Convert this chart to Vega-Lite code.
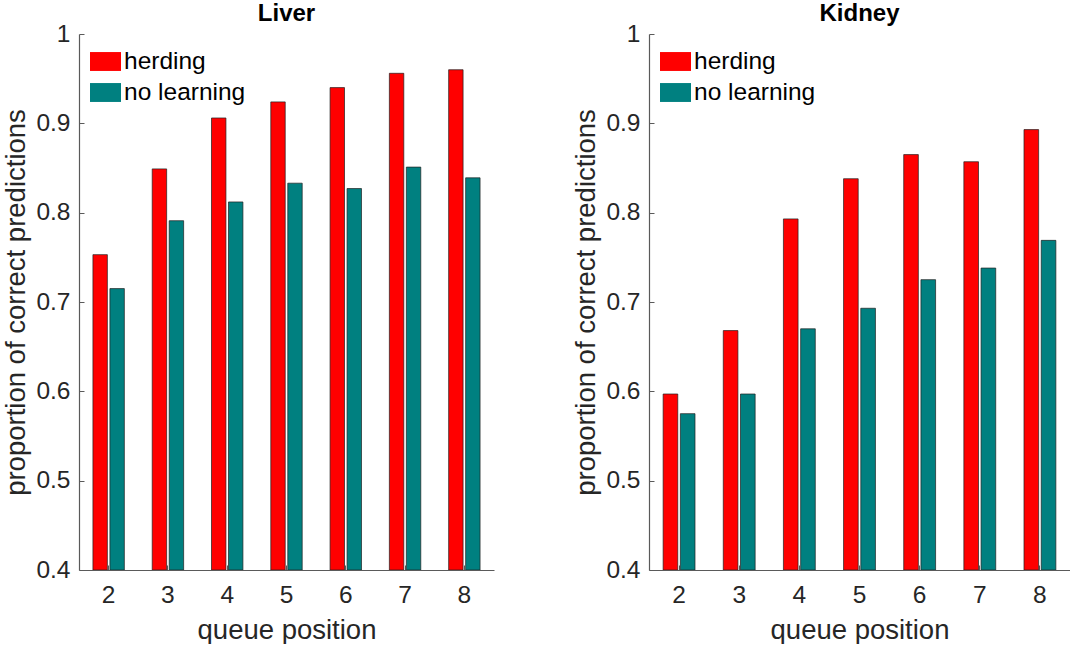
{
  "$schema": "https://vega.github.io/schema/vega-lite/v6.json",
  "background": "white",
  "padding": {"left": 2, "top": 2, "right": 0, "bottom": 0},
  "config": {
    "font": "Liberation Sans",
    "view": {"stroke": null},
    "axis": {
      "labelFont": "Liberation Sans",
      "labelFontSize": 24.5,
      "labelColor": "#262626",
      "titleFont": "Liberation Sans",
      "titleFontSize": 27.5,
      "titleFontWeight": "normal",
      "titleColor": "#262626",
      "domainColor": "#5a5a5a",
      "domainWidth": 1.2,
      "tickColor": "#5a5a5a",
      "grid": false
    },
    "title": {"font": "Liberation Sans", "fontSize": 24, "fontWeight": "bold", "color": "#000000", "offset": -5},
    "concat": {"spacing": 78}
  },
  "data": {
    "values": [
      {"organ": "Liver", "pos": 2, "method": "herding", "value": 0.753},
      {"organ": "Liver", "pos": 3, "method": "herding", "value": 0.849},
      {"organ": "Liver", "pos": 4, "method": "herding", "value": 0.906},
      {"organ": "Liver", "pos": 5, "method": "herding", "value": 0.924},
      {"organ": "Liver", "pos": 6, "method": "herding", "value": 0.940},
      {"organ": "Liver", "pos": 7, "method": "herding", "value": 0.956},
      {"organ": "Liver", "pos": 8, "method": "herding", "value": 0.960},
      {"organ": "Liver", "pos": 2, "method": "no learning", "value": 0.715},
      {"organ": "Liver", "pos": 3, "method": "no learning", "value": 0.791},
      {"organ": "Liver", "pos": 4, "method": "no learning", "value": 0.812},
      {"organ": "Liver", "pos": 5, "method": "no learning", "value": 0.833},
      {"organ": "Liver", "pos": 6, "method": "no learning", "value": 0.827},
      {"organ": "Liver", "pos": 7, "method": "no learning", "value": 0.851},
      {"organ": "Liver", "pos": 8, "method": "no learning", "value": 0.839},
      {"organ": "Kidney", "pos": 2, "method": "herding", "value": 0.597},
      {"organ": "Kidney", "pos": 3, "method": "herding", "value": 0.668},
      {"organ": "Kidney", "pos": 4, "method": "herding", "value": 0.793},
      {"organ": "Kidney", "pos": 5, "method": "herding", "value": 0.838},
      {"organ": "Kidney", "pos": 6, "method": "herding", "value": 0.865},
      {"organ": "Kidney", "pos": 7, "method": "herding", "value": 0.857},
      {"organ": "Kidney", "pos": 8, "method": "herding", "value": 0.893},
      {"organ": "Kidney", "pos": 2, "method": "no learning", "value": 0.575},
      {"organ": "Kidney", "pos": 3, "method": "no learning", "value": 0.597},
      {"organ": "Kidney", "pos": 4, "method": "no learning", "value": 0.670},
      {"organ": "Kidney", "pos": 5, "method": "no learning", "value": 0.693},
      {"organ": "Kidney", "pos": 6, "method": "no learning", "value": 0.725},
      {"organ": "Kidney", "pos": 7, "method": "no learning", "value": 0.738},
      {"organ": "Kidney", "pos": 8, "method": "no learning", "value": 0.769}
    ]
  },
  "hconcat": [
    {
      "title": "Liver",
      "width": 415,
      "height": 536,
      "transform": [{"filter": "datum.organ === 'Liver'"}],
      "mark": {"type": "bar", "clip": true, "stroke": "#1f1f1f", "strokeWidth": 0.7},
      "encoding": {
        "x": {"field": "pos", "type": "ordinal", "scale": {"paddingInner": 0.47, "paddingOuter": 0.235},
              "axis": {"title": "queue position", "labelAngle": 0, "tickSize": -5, "labelPadding": 18, "titlePadding": 10}},
        "xOffset": {"field": "method", "type": "nominal", "scale": {"domain": ["herding", "no learning"], "paddingInner": 0.15}},
        "y": {"field": "value", "type": "quantitative", "scale": {"domain": [0.4, 1]},
              "axis": {"title": "proportion of correct predictions", "values": [0.4, 0.5, 0.6, 0.7, 0.8, 0.9, 1], "format": ".1~f", "tickSize": -5, "labelPadding": 14, "titlePadding": 5}},
        "y2": {"datum": 0.4},
        "color": {"field": "method", "type": "nominal",
                  "scale": {"domain": ["herding", "no learning"], "range": ["#ff0000", "#008080"]},
                  "legend": {"title": null, "orient": "none", "legendX": 11, "legendY": 12, "symbolType": "M-1,-0.61H1V0.61H-1Z", "symbolSize": 961, "symbolStrokeWidth": 0, "symbolOpacity": 1, "labelFontSize": 24.5, "labelColor": "#000000", "labelOffset": 3, "rowPadding": 4, "labelFont": "Liberation Sans"}}
      }
    },
    {
      "title": "Kidney",
      "width": 421,
      "height": 536,
      "transform": [{"filter": "datum.organ === 'Kidney'"}],
      "mark": {"type": "bar", "clip": true, "stroke": "#1f1f1f", "strokeWidth": 0.7},
      "encoding": {
        "x": {"field": "pos", "type": "ordinal", "scale": {"paddingInner": 0.47, "paddingOuter": 0.235},
              "axis": {"title": "queue position", "labelAngle": 0, "tickSize": -5, "labelPadding": 18, "titlePadding": 10}},
        "xOffset": {"field": "method", "type": "nominal", "scale": {"domain": ["herding", "no learning"], "paddingInner": 0.15}},
        "y": {"field": "value", "type": "quantitative", "scale": {"domain": [0.4, 1]},
              "axis": {"title": "proportion of correct predictions", "values": [0.4, 0.5, 0.6, 0.7, 0.8, 0.9, 1], "format": ".1~f", "tickSize": -5, "labelPadding": 14, "titlePadding": 5}},
        "y2": {"datum": 0.4},
        "color": {"field": "method", "type": "nominal",
                  "scale": {"domain": ["herding", "no learning"], "range": ["#ff0000", "#008080"]},
                  "legend": {"title": null, "orient": "none", "legendX": 11, "legendY": 12, "symbolType": "M-1,-0.61H1V0.61H-1Z", "symbolSize": 961, "symbolStrokeWidth": 0, "symbolOpacity": 1, "labelFontSize": 24.5, "labelColor": "#000000", "labelOffset": 3, "rowPadding": 4, "labelFont": "Liberation Sans"}}
      }
    }
  ],
  "resolve": {"scale": {"color": "independent", "y": "independent", "x": "independent", "xOffset": "independent"}, "legend": {"color": "independent"}}
}
